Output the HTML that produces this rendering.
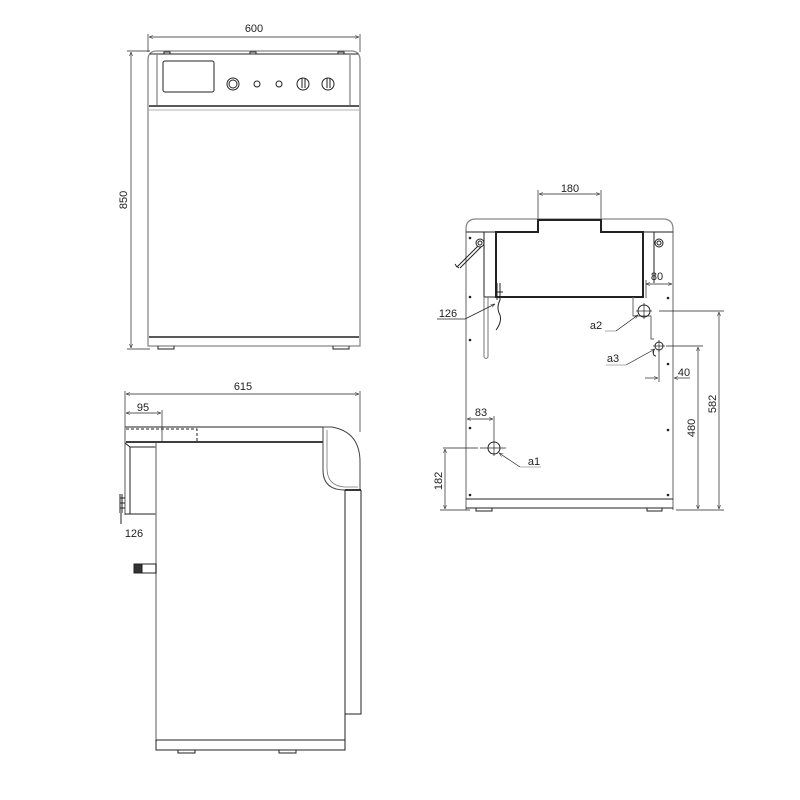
<!DOCTYPE html>
<html><head><meta charset="utf-8"><style>html,body{margin:0;padding:0;background:#fff}svg{display:block}text{font-family:"Liberation Sans",sans-serif;font-size:11px;fill:#222}</style></head>
<body>
<svg width="800" height="800" viewBox="0 0 800 800" xmlns="http://www.w3.org/2000/svg">
<defs>
<marker id="a" viewBox="0 0 10 10" refX="10" refY="5" markerWidth="6" markerHeight="6" orient="auto-start-reverse"><path d="M0,1 L10,5 L0,9" fill="none" stroke="#333" stroke-width="1.2"/></marker>
</defs>
<g fill="none" stroke="#222" stroke-width="1">
<!-- FRONT VIEW -->
<line x1="148" y1="34" x2="148" y2="52" stroke-width="0.7"/><line x1="360" y1="34" x2="360" y2="52" stroke-width="0.7"/>
<line x1="149" y1="37" x2="359" y2="37" stroke-width="0.7" marker-start="url(#a)" marker-end="url(#a)"/>
<line x1="127" y1="51" x2="150" y2="51" stroke-width="0.7"/><line x1="127" y1="349" x2="150" y2="349" stroke-width="0.7"/>
<line x1="131" y1="52" x2="131" y2="348" stroke-width="0.7" marker-start="url(#a)" marker-end="url(#a)"/>
<path d="M148,346 L148,60 Q148,51 157,51 L351,51 Q360,51 360,60 L360,346 Z" stroke="#888" stroke-width="1.3"/>
<line x1="150" y1="54" x2="358" y2="54"/>
<line x1="157" y1="55" x2="157" y2="105" stroke="#666"/><line x1="350" y1="55" x2="350" y2="105" stroke="#666"/>
<line x1="149" y1="106" x2="359" y2="106" stroke-width="1.6"/>
<line x1="149" y1="110" x2="359" y2="110" stroke="#999" stroke-width="0.8"/>
<rect x="163" y="61" width="51" height="31" rx="2"/>
<circle cx="233" cy="84" r="6"/><circle cx="233" cy="84" r="4"/>
<circle cx="257" cy="84" r="3"/><circle cx="279" cy="84" r="3"/>
<circle cx="303" cy="84" r="6"/><line x1="302" y1="78" x2="302" y2="88"/><line x1="305" y1="78" x2="305" y2="88"/>
<circle cx="328" cy="84" r="6"/><line x1="327" y1="78" x2="327" y2="88"/><line x1="330" y1="78" x2="330" y2="88"/>
<rect x="164" y="52" width="6" height="2"/><rect x="250" y="52" width="6" height="2"/><rect x="338" y="52" width="6" height="2"/>
<line x1="149" y1="337" x2="359" y2="337" stroke-width="1.4"/>
<path d="M158,346 L158,349 L174,349 L174,346 M333,346 L333,349 L349,349 L349,346"/>

<!-- SIDE VIEW -->
<line x1="125" y1="391" x2="125" y2="428" stroke-width="0.7"/><line x1="360" y1="391" x2="360" y2="432" stroke-width="0.7"/>
<line x1="126" y1="394" x2="359" y2="394" stroke-width="0.7" marker-start="url(#a)" marker-end="url(#a)"/>
<line x1="162" y1="410" x2="162" y2="442" stroke-width="0.7"/>
<line x1="126" y1="413" x2="161" y2="413" stroke-width="0.7" marker-start="url(#a)" marker-end="url(#a)"/>
<line x1="125" y1="427" x2="323" y2="427"/>
<line x1="126" y1="442" x2="323" y2="442" stroke-width="1.8"/>
<path d="M126,429 L197,429 L197,442" stroke-dasharray="3,2"/>
<line x1="125" y1="427" x2="125" y2="515" stroke="#888" stroke-width="1.4"/>
<line x1="130" y1="447" x2="130" y2="514"/>
<line x1="125" y1="443" x2="130" y2="447"/>
<line x1="130" y1="447" x2="156" y2="447"/>
<line x1="125" y1="514" x2="156" y2="514"/>
<line x1="156" y1="443" x2="156" y2="741" stroke="#888" stroke-width="1.4"/>
<path d="M120,494 L120,513 M122,494 L122,513 M120,498 L125,498 M120,503 L125,503 M120,508 L125,508"/>
<line x1="121" y1="513" x2="121" y2="524"/>
<rect x="134" y="564" width="22" height="9"/><rect x="134" y="564" width="8" height="9" fill="#333"/>
<path d="M323,427 L332,427 Q360,432 360,462 L360,490 L345,490 Q323,490 323,470 Z" stroke="#444"/>
<path d="M327,430 L327,468 Q327,486 345,487 L358,487" stroke="#777" stroke-width="0.8"/>
<line x1="345" y1="490" x2="361" y2="490" stroke-width="1.8"/>
<path d="M345,490 L345,714 L361,714 L361,490"/>
<line x1="156" y1="740" x2="345" y2="740"/>
<path d="M156,740 L156,750 L345,750 L345,714"/>
<path d="M178,750 L178,753 L195,753 L195,750 M279,750 L279,753 L296,753 L296,750"/>

<!-- BACK VIEW -->
<line x1="538" y1="190" x2="538" y2="220" stroke-width="0.7"/><line x1="601" y1="190" x2="601" y2="220" stroke-width="0.7"/>
<line x1="539" y1="194" x2="600" y2="194" stroke-width="0.7" marker-start="url(#a)" marker-end="url(#a)"/>
<path d="M466,510 L466,229 Q466,219 476,219 L663,219 Q673,219 673,229 L673,510" stroke="#888" stroke-width="1.3"/>
<line x1="466" y1="499" x2="673" y2="499"/>
<line x1="466" y1="508" x2="673" y2="508"/>
<path d="M476,508 L476,511 L492,511 L492,508 M647,508 L647,511 L662,511 L662,508"/>
<path d="M496,297 L496,232 L538,232 L538,220 L601,220 L601,232 L643,232 L643,297 Z" stroke-width="2"/>
<line x1="466" y1="232" x2="496" y2="232"/><line x1="643" y1="232" x2="673" y2="232"/>
<line x1="484" y1="232" x2="484" y2="297"/>
<line x1="654" y1="232" x2="654" y2="283"/>
<line x1="484" y1="297" x2="496" y2="297"/>
<path d="M484,297 L484,357 Q486,360 488,357 L488,297" stroke="#777"/>
<circle cx="480" cy="243" r="4"/><circle cx="480" cy="243" r="2"/>
<path d="M478,246 L457,267 M481,247 L460,268 M457,267 L455,264 M459,268 L456,266"/>
<circle cx="659" cy="243" r="4"/><circle cx="659" cy="243" r="2"/>
<path d="M497,283 L497,300 M500,283 L500,300 M496,292 L503,292 M500,300 Q496,308 500,315 Q502,322 496,330"/>
<line x1="437" y1="319" x2="465" y2="319" stroke-width="0.7"/>
<line x1="465" y1="319" x2="495" y2="304" stroke-width="0.7" marker-end="url(#a)"/>
<!-- right pipes -->
<path d="M633,297 L633,316 L651,316 L651,339 L654,339" stroke="#666"/>
<circle cx="644" cy="311" r="6"/>
<line x1="636" y1="311" x2="652" y2="311" stroke-width="0.7"/><line x1="644" y1="303" x2="644" y2="319" stroke-width="0.7"/>
<circle cx="659" cy="346" r="4"/>
<line x1="653" y1="346" x2="665" y2="346" stroke-width="0.7"/><line x1="659" y1="340" x2="659" y2="352" stroke-width="0.7"/>
<path d="M654,350 Q652,356 656,356" />
<line x1="646" y1="284" x2="672" y2="284" stroke-width="0.7" marker-start="url(#a)" marker-end="url(#a)"/>
<line x1="646" y1="280" x2="646" y2="298" stroke-width="0.7"/>
<line x1="605" y1="331" x2="616" y2="331" stroke="#999" stroke-width="0.8"/>
<line x1="616" y1="331" x2="638" y2="315" stroke-width="0.7" marker-end="url(#a)"/>
<line x1="606" y1="365" x2="626" y2="365" stroke="#999" stroke-width="0.8"/>
<line x1="626" y1="365" x2="655" y2="349" stroke-width="0.7" marker-end="url(#a)"/>
<!-- 40 -->
<line x1="659" y1="350" x2="659" y2="382" stroke-width="0.7"/>
<line x1="645" y1="378" x2="658" y2="378" stroke-width="0.7" marker-end="url(#a)"/>
<line x1="690" y1="378" x2="674" y2="378" stroke-width="0.7" marker-end="url(#a)"/>
<!-- 582 / 480 -->
<line x1="659" y1="311" x2="724" y2="311" stroke-width="0.7"/>
<line x1="666" y1="346" x2="703" y2="346" stroke-width="0.7"/>
<line x1="676" y1="510" x2="724" y2="510" stroke-width="0.7"/>
<line x1="719" y1="312" x2="719" y2="509" stroke-width="0.7" marker-start="url(#a)" marker-end="url(#a)"/>
<line x1="698" y1="347" x2="698" y2="509" stroke-width="0.7" marker-start="url(#a)" marker-end="url(#a)"/>
<!-- a1, 83, 182 -->
<circle cx="494" cy="448" r="6"/>
<line x1="480" y1="448" x2="506" y2="448" stroke-width="0.7"/><line x1="494" y1="436" x2="494" y2="456" stroke-width="0.7"/>
<line x1="494" y1="416" x2="494" y2="436" stroke-width="0.7"/>
<line x1="467" y1="419" x2="493" y2="419" stroke-width="0.7" marker-start="url(#a)" marker-end="url(#a)"/>
<line x1="443" y1="448" x2="478" y2="448" stroke-width="0.7"/>
<line x1="440" y1="510" x2="470" y2="510" stroke-width="0.7"/>
<line x1="445" y1="449" x2="445" y2="509" stroke-width="0.7" marker-start="url(#a)" marker-end="url(#a)"/>
<line x1="520" y1="467" x2="541" y2="467" stroke="#999" stroke-width="0.8"/>
<line x1="520" y1="467" x2="499" y2="453" stroke-width="0.7" marker-end="url(#a)"/>
</g>
<g fill="#222" stroke="none">
<circle cx="470" cy="238" r="1.3"/><circle cx="470" cy="297" r="1.3"/><circle cx="470" cy="340" r="1.3"/><circle cx="470" cy="428" r="1.3"/><circle cx="470" cy="495" r="1.3"/>
<circle cx="668" cy="298" r="1.3"/><circle cx="668" cy="364" r="1.3"/><circle cx="668" cy="430" r="1.3"/><circle cx="668" cy="495" r="1.3"/>
</g>
<text x="254" y="32" text-anchor="middle">600</text>
<text transform="translate(127,200) rotate(-90)" text-anchor="middle">850</text>
<text x="243" y="390" text-anchor="middle">615</text>
<text x="143" y="411" text-anchor="middle">95</text>
<text x="134" y="537" text-anchor="middle">126</text>
<text x="570" y="192" text-anchor="middle">180</text>
<text x="657" y="280" text-anchor="middle">80</text>
<text x="448" y="317" text-anchor="middle">126</text>
<text x="596" y="329" text-anchor="middle">a2</text>
<text x="613" y="362" text-anchor="middle">a3</text>
<text x="684" y="376" text-anchor="middle">40</text>
<text transform="translate(716,404) rotate(-90)" text-anchor="middle">582</text>
<text transform="translate(695,428) rotate(-90)" text-anchor="middle">480</text>
<text x="481" y="416" text-anchor="middle">83</text>
<text x="534" y="465" text-anchor="middle">a1</text>
<text transform="translate(442,481) rotate(-90)" text-anchor="middle">182</text>
</svg>
</body></html>
